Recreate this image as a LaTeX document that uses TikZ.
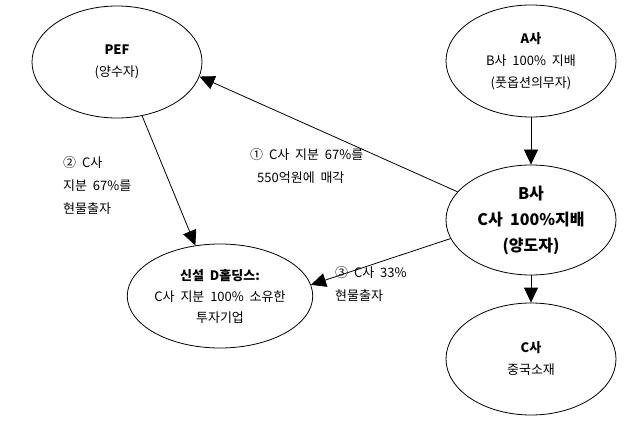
\documentclass[tikz,border=0pt]{standalone}
\usepackage{fontspec}
\setmainfont[WordSpace=2]{Noto Sans CJK KR}
\usetikzlibrary{shapes.geometric,arrows.meta}
\tikzset{
  firm/.style={draw,ellipse,line width=0.8pt,minimum width=170pt,minimum height=112pt,
    inner sep=0pt,align=center,font=\fontsize{13}{22}\selectfont},
  flow/.style={line width=0.8pt,-{Triangle[length=15pt,width=14pt]}},
  note/.style={align=left,anchor=north west,inner sep=0pt,font=\fontsize{13}{23}\selectfont}
}
\begin{document}
\begin{tikzpicture}[x=1pt,y=-1pt]
  \useasboundingbox (0,0) rectangle (634,422);
  % companies
  \node[firm] (pef) at (117,62) {\textbf{PEF}\\(양수자)};
  \node[firm] (acorp) at (531,61) {\textbf{A사}\\B사 100\% 지배\\(풋옵션의무자)};
  \node[firm,minimum height=110pt,font=\fontsize{16}{26}\selectfont\bfseries] (bcorp) at (531,220)
    {B사\\C사 100\%지배\\(양도자)};
  \node[firm,minimum height=104pt,font=\fontsize{13}{21}\selectfont] (dhold) at (220,296)
    {\textbf{신설 D홀딩스:}\\C사 지분 100\% 소유한\\투자기업};
  \node[firm] (ccorp) at (531,359) {\textbf{C사}\\중국소재};
  % flows
  \draw[flow] (acorp.south) -- (bcorp.north);
  \draw[flow] (bcorp.south) -- (ccorp.north);
  \draw[flow] (bcorp.159) -- (pef.-10);
  \draw[flow] (pef.-65) -- (dhold.116);
  \draw[flow] (bcorp.-167) -- (dhold.7);
  % labels
  \node[note] (sale) at (250,148) {① C사 지분 67\%를\\\hspace{7pt}550억원에 매각};
  \node[note] (contrib) at (63,156) {② C사\\지분 67\%를\\현물출자};
  \node[note] (rest) at (335,266) {③ C사 33\%\\현물출자};
\end{tikzpicture}
\end{document}
